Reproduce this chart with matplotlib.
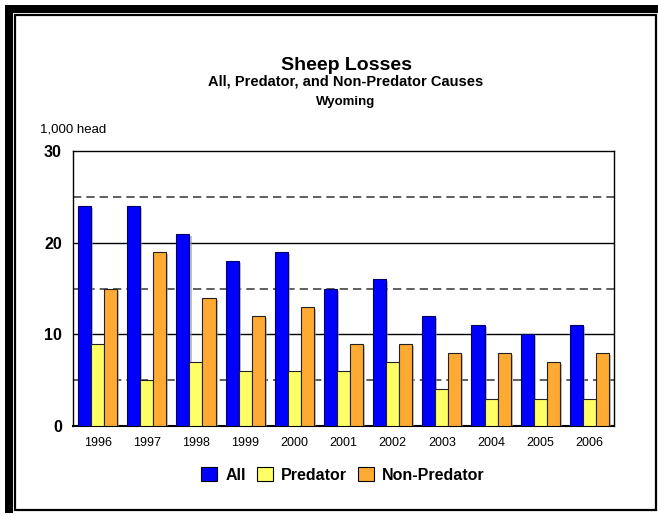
import numpy as np
import matplotlib
matplotlib.use("Agg")
import matplotlib.pyplot as plt
import matplotlib.patheffects as pe
from matplotlib.patches import Rectangle

plt.rcParams['font.family'] = ['Liberation Sans', 'DejaVu Sans']

# Data (1,000 head)
years = ['1996', '1997', '1998', '1999', '2000', '2001', '2002', '2003', '2004', '2005', '2006']
all_losses = [24, 24, 21, 18, 19, 15, 16, 12, 11, 10, 11]
predator = [9, 5, 7, 6, 6, 6, 7, 4, 3, 3, 3]
non_predator = [15, 19, 14, 12, 13, 9, 9, 8, 8, 7, 8]

W, H = 658, 516
fig = plt.figure(figsize=(W / 100, H / 100), dpi=100)


def px(x, y_top):
    # pixel position (from top-left) -> figure fraction
    return x / W, 1 - y_top / H


# frame: thick black top/left, thin inner border
fig.patches.append(Rectangle(px(5, 513), 653 / W, 508 / H, transform=fig.transFigure,
                             facecolor='black', edgecolor='none', zorder=-10))
fig.patches.append(Rectangle(px(13, 516), 645 / W, 503 / H, transform=fig.transFigure,
                             facecolor='white', edgecolor='none', zorder=-9))
fig.patches.append(Rectangle(px(15, 510), 641 / W, 495 / H, transform=fig.transFigure,
                             facecolor='white', edgecolor='black', linewidth=1.6, zorder=-8))

ax = fig.add_axes([73 / W, (H - 426) / H, (614 - 73) / W, (426 - 151) / H])
ax.set_facecolor('none')

x = np.arange(len(years))
w = 0.265
shadow = [pe.SimplePatchShadow(offset=(1.5, -1.5), shadow_rgbFace='#999999', alpha=0.6), pe.Normal()]
ax.bar(x - w, all_losses, w, color='#0000ff', edgecolor='#000066', linewidth=0.8,
       label='All', zorder=3, path_effects=shadow)
ax.bar(x, predator, w, color='#ffff66', edgecolor='#222222', linewidth=0.8,
       label='Predator', zorder=3, path_effects=shadow)
ax.bar(x + w, non_predator, w, color='#ffaa33', edgecolor='#222222', linewidth=0.8,
       label='Non-Predator', zorder=3, path_effects=shadow)

ax.set_xlim(-0.5, len(years) - 0.5)
ax.set_ylim(0, 30)

for v in [10, 20]:
    ax.axhline(v, color='black', linewidth=1.0, zorder=1)
for v in [5, 15, 25]:
    ax.axhline(v, color='#444444', linewidth=1.2, dashes=(5, 3), zorder=1)

ax.set_yticks([0, 10, 20, 30])
ax.set_yticklabels(['0', '10', '20', '30'], fontsize=11.5, fontweight='bold')
ax.set_xticks(x)
ax.set_xticklabels(years, fontsize=9)
ax.tick_params(axis='y', length=0, pad=8)
ax.tick_params(axis='x', length=0, pad=8)
for s in ax.spines.values():
    s.set_linewidth(1.0)
    s.set_color('black')
ax.spines['bottom'].set_linewidth(1.5)

cx = 346 / W
fig.text(cx, px(0, 70)[1], 'Sheep Losses', ha='center', va='baseline',
         fontsize=14, fontweight='bold')
fig.text(cx, px(0, 86)[1], 'All, Predator, and Non-Predator Causes', ha='center',
         va='baseline', fontsize=10.5, fontweight='bold')
fig.text(cx, px(0, 105)[1], 'Wyoming', ha='center', va='baseline',
         fontsize=9.5, fontweight='bold')
fig.text(40 / W, px(0, 133)[1], '1,000 head', ha='left', va='baseline', fontsize=9.5)

leg = fig.legend(loc='center', bbox_to_anchor=(343 / W, px(0, 475)[1]), ncol=3,
                 frameon=False, prop={'weight': 'bold', 'size': 11.5},
                 handlelength=1.0, handleheight=1.0, handletextpad=0.5,
                 columnspacing=0.7)
for h in leg.legend_handles:
    h.set_path_effects([])
    h.set_edgecolor('black')

fig.savefig('out.png', dpi=100)
